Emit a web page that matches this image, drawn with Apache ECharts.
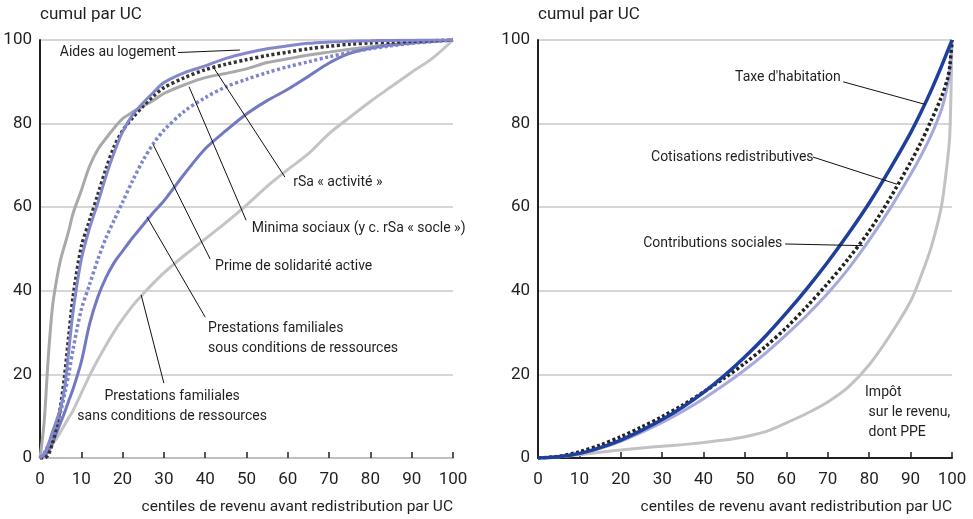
<!DOCTYPE html>
<html>
<head>
<meta charset="utf-8">
<style>
  html, body { margin: 0; background: #fff; }
  #chart { width: 973px; height: 519px; }
</style>
<script src="https://cdn.jsdelivr.net/npm/echarts@6.0.0/dist/echarts.min.js"></script>
</head>
<body>
<div id="chart"></div>
<script>
// centiles (left panel: prestations)
const centilesG = [0, 1, 2, 3, 4, 5, 6, 7, 8, 10, 12, 14, 16, 18, 20, 22.5, 25, 27.5, 30, 35, 40, 45, 50, 55, 60, 65, 70, 75, 80, 85, 90, 95, 100]
const minimaSociaux = [0, 8.5, 24, 36, 42.5, 47.5, 51, 54.5, 58.5, 64, 69.8, 73.8, 76.5, 79, 81.2, 82.8, 84.2, 85.6, 87.2, 89.3, 91, 92, 93.1, 94.6, 95.5, 96.4, 97.1, 97.8, 98.4, 98.9, 99.3, 99.7, 100]
const rsaActivite = [0, 0, 0.8, 3.5, 7.5, 12.5, 20, 29.5, 38.5, 50.5, 56.8, 63, 69.2, 74.6, 78.3, 81.5, 84.2, 86.6, 88.6, 91, 92.9, 94.2, 95.3, 96.3, 97.1, 97.9, 98.5, 99, 99.3, 99.5, 99.7, 99.85, 100]
const aidesLogement = [0, 1, 3.2, 6.2, 9, 12, 17, 26, 35, 47.5, 55, 61, 67.5, 73.2, 78, 82.2, 85, 87.5, 89.8, 92.2, 93.8, 95.6, 96.9, 97.9, 98.6, 99.2, 99.5, 99.7, 99.8, 99.9, 99.95, 100, 100]
const primeSolidarite = [0, 1.2, 3, 5, 7.5, 11, 15.5, 20.3, 26, 35.5, 41.5, 47.5, 52.7, 57, 61.2, 66.5, 71.3, 75.3, 78.4, 83, 86.2, 88.8, 90.6, 92.2, 93.6, 94.8, 96, 97, 97.9, 98.6, 99.2, 99.6, 100]
const pfSousConditions = [0, 0.5, 1.5, 3.5, 6, 8.5, 11, 13.8, 16.5, 23, 32, 38.5, 43.2, 46.8, 49.5, 52.8, 55.8, 58.8, 61.5, 68, 74, 78.3, 82.3, 85.5, 88.2, 91.3, 94.5, 96.8, 98, 98.8, 99.3, 99.7, 100]
const pfSansConditions = [0, 0.8, 2, 3.3, 4.7, 6.3, 8, 9.7, 11.3, 15.5, 19.7, 23.5, 27, 30.3, 33.2, 36.5, 39.3, 41.9, 44.3, 48.5, 52.4, 56.3, 60.5, 65, 69, 72.8, 77.6, 81.5, 85.3, 88.8, 92.3, 95.6, 100]

// centiles (right panel: prelevements)
const centilesD = [0, 5, 10, 15, 20, 25, 30, 35, 40, 45, 50, 55, 60, 65, 70, 75, 80, 85, 90, 92.5, 95, 97.5, 99, 99.5, 100]
const taxeHabitation = [0, 0.3, 1.1, 2.5, 4.3, 6.6, 9.2, 12.2, 15.7, 19.7, 24.2, 29.2, 34.7, 40.6, 46.9, 53.7, 61, 69.1, 77.8, 82.7, 88, 93.8, 97.5, 98.7, 100]
const cotisations = [0, 0.4, 1.5, 3.1, 5.1, 7.4, 9.9, 12.7, 15.8, 19.1, 22.7, 26.7, 31.2, 36.3, 41.8, 47.7, 54.3, 62.1, 70.8, 75.5, 80.8, 86.5, 91, 94, 100]
const contributions = [0, 0.3, 1, 2.3, 4, 6.1, 8.5, 11.2, 14.2, 17.5, 21.1, 25.1, 29.5, 34.2, 39.4, 45.3, 52.1, 59.6, 67.8, 72.3, 77.3, 83.5, 89.5, 93, 100]
const impotRevenu = [0, 0.3, 0.8, 1.4, 1.9, 2.4, 2.8, 3.2, 3.7, 4.3, 5.1, 6.3, 8.4, 10.7, 13.4, 17, 22.3, 29.3, 37.5, 43.5, 50.5, 60.5, 72, 78, 100]

// annotations (data coordinates)
const labelsG = [
  { text: 'Aides au logement', at: [4.8, 97.1], align: 'left' },
  { text: 'rSa « activité »', at: [61.3, 65.8], align: 'left' },
  { text: 'Minima sociaux (y c. rSa « socle »)', at: [51.3, 55], align: 'left' },
  { text: 'Prime de solidarité active', at: [42.4, 45.7], align: 'left' },
  { text: 'Prestations familiales\nsous conditions de ressources', at: [40.7, 28.7], align: 'left' },
  { text: 'Prestations familiales\nsans conditions de ressources', at: [32, 12.4], align: 'center' }
]
const leadersG = [
  [[33.4, 97.0], [48.4, 97.6]],
  [[59.3, 67.2], [42.1, 93.3]],
  [[49.9, 56.9], [36.1, 88.8]],
  [[41.2, 47.6], [27.4, 75.0]],
  [[40.0, 33.7], [25.9, 57.7]],
  [[30.0, 17.9], [24.5, 39.0]]
]
const labelsD = [
  { text: "Taxe d'habitation", at: [47.6, 91.1], align: 'left' },
  { text: 'Cotisations redistributives', at: [27.3, 72], align: 'left' },
  { text: 'Contributions sociales', at: [25.4, 51.4], align: 'left' },
  { text: 'Impôt\n sur le revenu,\n dont PPE', at: [79, 11], align: 'left' }
]
const leadersD = [
  [[73.7, 90.0], [93.5, 84.6]],
  [[66.4, 72.0], [86.7, 65.5]],
  [[59.7, 51.2], [78.5, 50.8]]
]

const font = "Roboto, 'Liberation Sans', sans-serif"
const ink = '#231f20'

function pairs(xs, ys) {
  return xs.map((x, i) => [x, ys[i]])
}

function curve(name, idx, xs, ys, color, width, dotted) {
  return {
    name: name,
    type: 'line',
    xAxisIndex: idx,
    yAxisIndex: idx,
    data: pairs(xs, ys),
    showSymbol: false,
    smooth: 0.3,
    lineStyle: {
      color: color,
      width: width,
      type: dotted ? [3, 2.5] : 'solid',
      cap: 'butt'
    },
    silent: true,
    z: 3
  }
}

function notes(idx, labels, leaders) {
  return {
    type: 'line',
    xAxisIndex: idx,
    yAxisIndex: idx,
    data: [],
    silent: true,
    z: 5,
    markLine: {
      silent: true,
      symbol: ['none', 'none'],
      animation: false,
      lineStyle: { color: '#111', width: 1, type: 'solid' },
      label: { show: false },
      emphasis: { disabled: true },
      data: leaders.map(l => [{ coord: l[0] }, { coord: l[1] }])
    },
    markPoint: {
      silent: true,
      symbol: 'circle',
      symbolSize: 0,
      animation: false,
      data: labels.map(l => ({
        coord: l.at,
        label: {
          show: true,
          position: [0, 0],
          formatter: l.text,
          align: l.align,
          verticalAlign: 'middle',
          color: ink,
          fontFamily: font,
          fontSize: 14,
          lineHeight: 20
        }
      }))
    }
  }
}

function xAxisFor(idx, axisColor) {
  return {
    gridIndex: idx,
    type: 'value',
    min: 0,
    max: 100,
    interval: 10,
    axisLine: { show: true, onZero: false, lineStyle: { color: axisColor, width: 2 } },
    axisTick: { show: true, inside: true, length: 6, lineStyle: { color: ink, width: 1.5 } },
    axisLabel: { fontSize: 17, color: ink, margin: 13, fontFamily: font },
    splitLine: { show: false },
    name: 'centiles de revenu avant redistribution par UC',
    nameLocation: 'end',
    nameGap: 0,
    nameTextStyle: {
      align: 'right',
      verticalAlign: 'top',
      padding: [41, 0, 0, 0],
      fontSize: 15.5,
      color: ink,
      fontFamily: font
    }
  }
}

function yAxisFor(idx) {
  return {
    gridIndex: idx,
    type: 'value',
    min: 0,
    max: 100,
    interval: 20,
    axisLine: { show: true, lineStyle: { color: ink, width: 2 } },
    axisTick: { show: false },
    axisLabel: { fontSize: 17, color: ink, margin: 8, fontFamily: font },
    splitLine: { lineStyle: { color: '#c8c8c8', width: 1.5 } },
    name: 'cumul par UC',
    nameLocation: 'end',
    nameGap: 17,
    nameTextStyle: { align: 'left', fontSize: 17, color: ink, fontFamily: font }
  }
}

const chart = echarts.init(document.getElementById('chart'), null, { renderer: 'canvas' })

chart.setOption({
  animation: false,
  backgroundColor: '#fff',
  grid: [
    { left: 40, right: 520, top: 40, bottom: 61 },
    { left: 538, right: 21, top: 40, bottom: 61 }
  ],
  xAxis: [xAxisFor(0, '#c0c0c0'), xAxisFor(1, ink)],
  yAxis: [yAxisFor(0), yAxisFor(1)],
  series: [
    curve('Prestations familiales sans conditions de ressources', 0, centilesG, pfSansConditions, '#c4c4c6', 3),
    curve('Minima sociaux', 0, centilesG, minimaSociaux, '#a9a9ab', 3),
    curve('Prestations familiales sous conditions de ressources', 0, centilesG, pfSousConditions, '#7278c2', 3),
    curve('Prime de solidarité active', 0, centilesG, primeSolidarite, '#7f85cc', 3.5, true),
    curve('rSa activité', 0, centilesG, rsaActivite, '#333333', 3.5, true),
    curve('Aides au logement', 0, centilesG, aidesLogement, '#8388cc', 3),
    curve('Impôt sur le revenu', 1, centilesD, impotRevenu, '#c2c2c6', 3),
    curve('Contributions sociales', 1, centilesD, contributions, '#a6a9dc', 3),
    curve('Cotisations redistributives', 1, centilesD, cotisations, '#222222', 3.5, true),
    curve("Taxe d'habitation", 1, centilesD, taxeHabitation, '#1f3f9c', 3.5),
    notes(0, labelsG, leadersG),
    notes(1, labelsD, leadersD)
  ]
})

window.addEventListener('resize', () => {
  chart.resize()
})
</script>
</body>
</html>
